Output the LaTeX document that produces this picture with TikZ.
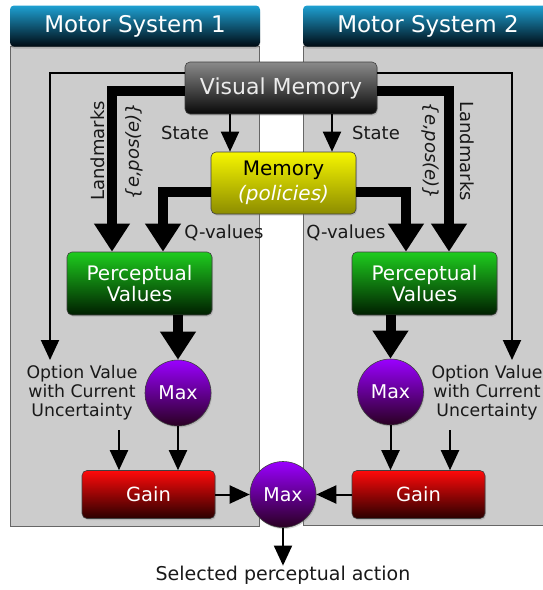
\documentclass[tikz,border=0pt]{standalone}
\usepackage{fontspec}
\setmainfont{DejaVu Sans}
\usetikzlibrary{arrows.meta,shadows,calc}
\definecolor{panelgray}{HTML}{CCCCCC}
\definecolor{hdrtop}{HTML}{1EA0D2}
\definecolor{hdrbot}{HTML}{000A12}
\definecolor{vmtop}{HTML}{8A8A8A}
\definecolor{vmbot}{HTML}{080808}
\definecolor{memtop}{HTML}{F6F600}
\definecolor{membot}{HTML}{8C8C00}
\definecolor{pvtop}{HTML}{1ECC1E}
\definecolor{pvbot}{HTML}{001E00}
\definecolor{gaintop}{HTML}{FF0A0A}
\definecolor{gainbot}{HTML}{2A0000}
\definecolor{maxtop}{HTML}{9A00FF}
\definecolor{maxbot}{HTML}{2A0022}
\begin{document}
\begin{tikzpicture}[x=1pt,y=-1pt,
  panel/.style={fill=panelgray, draw=black!60, line width=1pt},
  hdr/.style={rounded corners=4pt, top color=hdrtop, bottom color=hdrbot, text=white,
    font=\fontsize{23}{23}\selectfont, minimum height=41pt, inner sep=0pt,
    drop shadow={shadow xshift=0pt, shadow yshift=-2pt, opacity=0.35}},
  box/.style={rounded corners=5pt, draw=black!75, line width=0.6pt, inner sep=0pt, align=center,
    drop shadow={shadow xshift=1pt, shadow yshift=-1.5pt, opacity=0.3}},
  vmbox/.style={box, top color=vmtop, bottom color=vmbot, text=white!92!black,
    font=\fontsize{22}{22}\selectfont, minimum width=192pt, minimum height=52pt},
  membox/.style={box, top color=memtop, bottom color=membot,
    font=\fontsize{20}{25}\selectfont, minimum width=145pt, minimum height=62pt},
  pvbox/.style={box, top color=pvtop, bottom color=pvbot, text=white,
    font=\fontsize{20}{21}\selectfont, minimum width=145pt, minimum height=63pt},
  gainbox/.style={box, top color=gaintop, bottom color=gainbot, text=white,
    font=\fontsize{19.5}{20}\selectfont, minimum width=133pt, minimum height=48pt},
  maxnode/.style={circle, draw=black!75, line width=0.6pt, top color=maxtop, bottom color=maxbot,
    text=white, font=\fontsize{19}{19}\selectfont, minimum size=66pt, inner sep=0pt,
    drop shadow={shadow xshift=1pt, shadow yshift=-1.5pt, opacity=0.3}},
  lbl/.style={inner sep=0pt, text=black!90, font=\fontsize{18}{18}\selectfont},
  optlbl/.style={inner sep=0pt, align=center, text=black!90, font=\fontsize{17.3}{19}\selectfont},
  thickarrow/.style={line width=10pt, -{Triangle[width=34pt,length=28pt]}},
  thinarrow/.style={line width=2pt, -{Triangle[width=18pt,length=20pt]}}
]
\useasboundingbox (0,0) rectangle (543,590);
\fill[white] (0,0) rectangle (543,590);

% panels
\draw[panel] (10,46) rectangle (259,526);
\draw[panel] (303,46) rectangle (560,525);
\node[hdr, minimum width=250pt] (hdrL) at (135,26) {Motor System 1};
\node[hdr, minimum width=250pt] (hdrR) at (428,26) {Motor System 2};

% boxes
\node[vmbox] (vm) at (281,88) {Visual Memory};
\node[membox] (mem) at (283.5,183) {Memory\\\textcolor{white}{\itshape (policies)}};
\node[pvbox] (pvL) at (139.5,283.5) {Perceptual\\Values};
\node[pvbox] (pvR) at (424.5,283.5) {Perceptual\\Values};
\node[maxnode] (maxL) at (178,393) {Max};
\node[maxnode] (maxR) at (390.5,392) {Max};
\node[gainbox] (gainL) at (148.5,494.5) {Gain};
\node[gainbox] (gainR) at (418.5,494.5) {Gain};
\node[maxnode] (maxC) at (283,494.5) {Max};

% labels
\node[optlbl] (optL) at (82,393) {Option Value\\with Current\\Uncertainty};
\node[optlbl] (optR) at (487,393) {Option Value\\with Current\\Uncertainty};
\node[lbl] (stL) at (185,133) {State};
\node[lbl] (stR) at (376,133) {State};
\node[lbl] (qL) at (224,233) {Q-values};
\node[lbl] (qR) at (346,233) {Q-values};
\node[lbl, rotate=90] (lmL) at (98,151) {Landmarks};
\node[lbl, rotate=90] (epL) at (134,151) {\itshape\{e,pos(e)\}};
\node[lbl, rotate=-90] (epR) at (430,151) {\itshape\{e,pos(e)\}};
\node[lbl, rotate=-90] (lmR) at (467,151) {Landmarks};
\node[lbl, font=\fontsize{19}{19}\selectfont] (sel) at (283,575) {Selected perceptual action};

% free ends
\coordinate (tipL) at (50,360);
\coordinate (tipR) at (512,360);
\coordinate (oL) at (119,430);
\coordinate (oR) at (450,430);

% thin outer lines
\draw[thinarrow] ([yshift=-11pt]vm.north west) -| (tipL);
\draw[thinarrow] ([yshift=-11pt]vm.north east) -| (tipR);
% landmarks
\draw[thickarrow] ([yshift=-29.5pt]vm.north west) -| ([xshift=-27.5pt]pvL.north);
\draw[thickarrow] ([yshift=-29.5pt]vm.north east) -| ([xshift=24.5pt]pvR.north);
% state
\draw[thinarrow] ([xshift=-51pt]vm.south) -- ([xshift=-51pt]vm.south |- mem.north);
\draw[thinarrow] ([xshift=51pt]vm.south) -- ([xshift=51pt]vm.south |- mem.north);
% Q-values
\draw[thickarrow] ([yshift=-8.5pt]mem.west) -| ([xshift=23.5pt]pvL.north);
\draw[thickarrow] ([yshift=-8.5pt]mem.east) -| ([xshift=-18.5pt]pvR.north);
% PV -> Max
\draw[thickarrow] (maxL.north |- pvL.south) -- (maxL.north);
\draw[thickarrow] (maxR.north |- pvR.south) -- (maxR.north);
% Max -> Gain
\draw[thinarrow] (maxL.south) -- (maxL.south |- gainL.north);
\draw[thinarrow] (maxR.south) -- (maxR.south |- gainR.north);
% option -> Gain
\draw[thinarrow] (oL) -- (oL |- gainL.north);
\draw[thinarrow] (oR) -- (oR |- gainR.north);
% Gain -> central Max
\draw[thinarrow] (gainL.east) -- (maxC.west);
\draw[thinarrow] (gainR.west) -- (maxC.east);
% output
\draw[thinarrow] (maxC.south) -- (sel.north);
\end{tikzpicture}
\end{document}
